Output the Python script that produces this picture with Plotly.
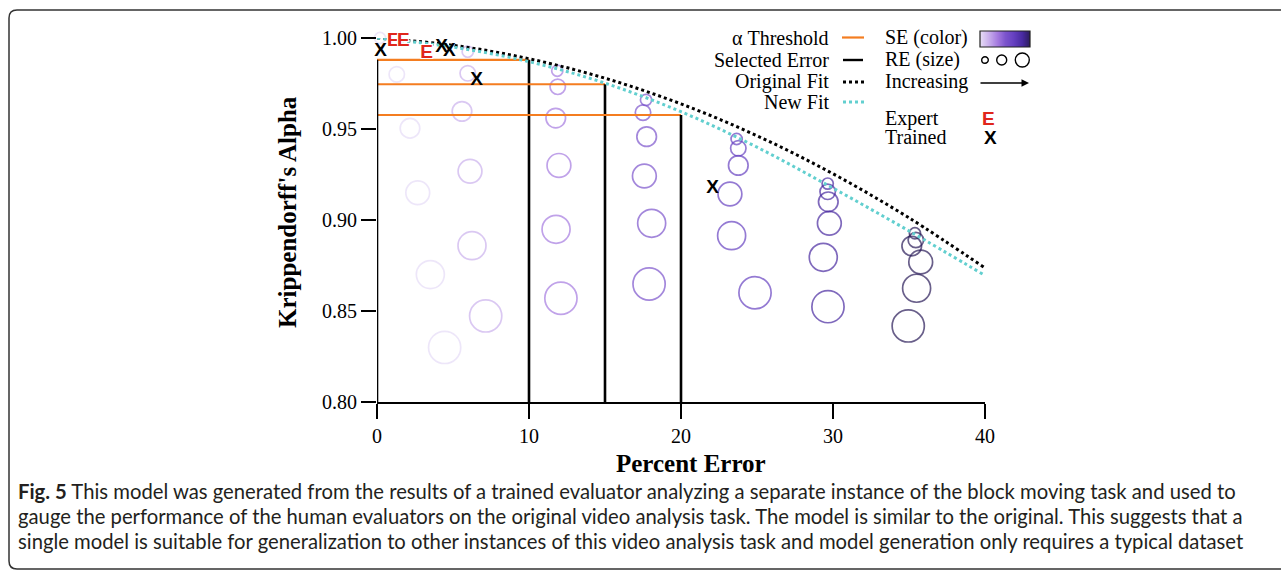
import plotly.graph_objects as go

W, H = 1281, 571

# ---------------- data ----------------
# bubble columns (one column per SE level); within a column RE increases
bubble_x = [
    [0.20, 1.30, 2.17, 2.68, 3.51, 4.45],
    [5.97, 5.97, 5.59, 6.12, 6.25, 7.15],
    [11.86, 11.89, 11.76, 11.97, 11.78, 12.10],
    [17.70, 17.50, 17.74, 17.59, 18.07, 17.90],
    [23.66, 23.77, 23.77, 23.22, 23.33, 24.87],
    [29.65, 29.65, 29.69, 29.76, 29.36, 29.67],
    [35.39, 35.45, 35.18, 35.77, 35.50, 34.95],
]
bubble_y = [
    [1.000, 0.980, 0.9504, 0.915, 0.870, 0.830],
    [0.9925, 0.9806, 0.9597, 0.9268, 0.8859, 0.8473],
    [0.982, 0.9732, 0.956, 0.930, 0.8949, 0.857],
    [0.966, 0.959, 0.9458, 0.9242, 0.8982, 0.8648],
    [0.9445, 0.9394, 0.930, 0.9143, 0.8914, 0.860],
    [0.920, 0.9155, 0.910, 0.8982, 0.8795, 0.8524],
    [0.8927, 0.889, 0.8857, 0.8769, 0.8625, 0.8418],
]
se_level = [0, 1, 2, 3, 4, 5, 6]          # colour (SE) per column
re_level = [1, 2, 3, 4, 5, 6]             # size (RE) within each column

expert_x = [1.07, 1.73, 3.27]
expert_y = [0.998, 0.998, 0.9916]
trained_x = [0.24, 4.25, 4.76, 6.56, 22.08]
trained_y = [0.993, 0.9949, 0.9925, 0.9769, 0.9174]

alpha_threshold = [0.988, 0.9746, 0.9577]
selected_error = [10, 15, 20]

fit_x = [0, 5, 10, 15, 20, 25, 30, 35, 40]
original_fit = [1.000, 0.9960, 0.9886, 0.9779, 0.9638, 0.9463, 0.9254, 0.9012, 0.8736]
new_fit = [1.000, 0.9950, 0.9870, 0.9752, 0.9595, 0.9400, 0.9175, 0.8940, 0.8695]

x_ticks = [0, 10, 20, 30, 40]
y_ticks = [0.80, 0.85, 0.90, 0.95, 1.00]
y_ticktext = ["0.80", "0.85", "0.90", "0.95", "1.00"]

caption_lines = [
    "<b>Fig. 5</b> This model was generated from the results of a trained evaluator analyzing a separate instance of the block moving task and used to",
    "gauge the performance of the human evaluators on the original video analysis task. The model is similar to the original. This suggests that a",
    "single model is suitable for generalization to other instances of this video analysis task and model generation only requires a typical dataset",
]

# ---------------- styling ----------------
SERIF = "Liberation Serif, Times New Roman, serif"
SANS = "Liberation Sans, Arial, sans-serif"
ORANGE = "#f47d20"
CYAN = "#62cfcf"
RED = "#e0261b"
colorscale = [[0, "#e6dbf6"], [1/6, "#cab1ed"], [2/6, "#a57bdf"], [3/6, "#7c54cc"],
              [4/6, "#6641c1"], [5/6, "#482aa0"], [1, "#2a1b58"]]


def px(x):
    return x / W


def py(y):
    return 1 - y / H


fig = go.Figure()

# bubbles
bx, by, bc, bs = [], [], [], []
for ci, col in enumerate(bubble_x):
    for ri, xv in enumerate(col):
        bx.append(xv)
        by.append(bubble_y[ci][ri])
        bc.append(se_level[ci])
        bs.append(7 + 4.2 * re_level[ri])
fig.add_trace(go.Scatter(
    x=bx, y=by, mode="markers", cliponaxis=False, hoverinfo="skip",
    marker=dict(symbol="circle-open", size=bs, color=bc, colorscale=colorscale,
                cmin=min(se_level), cmax=max(se_level), line=dict(width=1.7)),
))

# threshold (orange) and selected-error (black) lines
for thr, err in zip(alpha_threshold, selected_error):
    fig.add_trace(go.Scatter(x=[0, err], y=[thr, thr], mode="lines", cliponaxis=False,
                             line=dict(color=ORANGE, width=2.2), hoverinfo="skip"))
    fig.add_trace(go.Scatter(x=[err, err], y=[thr, y_ticks[0]], mode="lines", cliponaxis=False,
                             line=dict(color="black", width=2.6), hoverinfo="skip"))
# left axis segment
fig.add_trace(go.Scatter(x=[0, 0], y=[alpha_threshold[0], y_ticks[0]], mode="lines", cliponaxis=False,
                         line=dict(color="black", width=2.6), hoverinfo="skip"))

# fits
fig.add_trace(go.Scatter(x=fit_x, y=original_fit, mode="lines", line_shape="spline", cliponaxis=False,
                         line=dict(color="black", width=3, dash="dot"), hoverinfo="skip"))
fig.add_trace(go.Scatter(x=fit_x, y=new_fit, mode="lines", line_shape="spline", cliponaxis=False,
                         line=dict(color=CYAN, width=3, dash="dot"), hoverinfo="skip"))

# evaluators
fig.add_trace(go.Scatter(x=trained_x, y=trained_y, mode="text", text=["X"] * len(trained_x),
                         cliponaxis=False, hoverinfo="skip",
                         textfont=dict(family=SANS, size=19, color="black", weight="bold")))
fig.add_trace(go.Scatter(x=expert_x, y=expert_y, mode="text", text=["E"] * len(expert_x),
                         cliponaxis=False, hoverinfo="skip",
                         textfont=dict(family=SANS, size=19, color=RED, weight="bold",
                                       shadow="1px 1px 0 white, -1px -1px 0 white, 1px -1px 0 white, -1px 1px 0 white")))

# legend colour bar (heatmap on its own axes)
fig.add_trace(go.Heatmap(z=[se_level, se_level], x=se_level, y=[0, 1], colorscale=colorscale,
                         zsmooth="best", showscale=False, hoverinfo="skip",
                         xaxis="x2", yaxis="y2"))

fig.update_layout(
    width=W, height=H, margin=dict(l=0, r=0, t=0, b=0, autoexpand=False),
    paper_bgcolor="white", plot_bgcolor="rgba(0,0,0,0)", showlegend=False,
    xaxis=dict(domain=[px(377), px(985)], range=[0, 40], tickvals=x_ticks,
               showgrid=False, zeroline=False, showline=True, linecolor="black", linewidth=2.4,
               ticks="outside", ticklen=15, tickwidth=2.2, tickcolor="black",
               tickfont=dict(family=SERIF, size=20, color="black")),
    yaxis=dict(domain=[py(402), py(38)], range=[0.80, 1.00], tickvals=y_ticks, ticktext=y_ticktext,
               showgrid=False, zeroline=False, showline=False,
               ticks="outside", ticklen=15, tickwidth=2.2, tickcolor="black",
               tickfont=dict(family=SERIF, size=20, color="black")),
    xaxis2=dict(domain=[px(980), px(1030)], range=[0, 6], visible=False, anchor="y2"),
    yaxis2=dict(domain=[py(47), py(31)], range=[0, 1], visible=False, anchor="x2"),
)

shapes = []
annotations = []


def label(x, y, text, size=20, family=SERIF, color="black", xanchor="center", angle=0):
    annotations.append(dict(x=px(x), y=py(y), xref="paper", yref="paper", showarrow=False,
                            xanchor=xanchor, yanchor="middle", textangle=angle, text=text,
                            font=dict(family=family, size=size, color=color)))


# axis titles
label(691, 463, "<b>Percent Error</b>", size=25)
label(287, 212, "<b>Krippendorff's Alpha</b>", size=25, angle=-90)

# legend – left column
left_items = [("α Threshold", 37.5), ("Selected Error", 60), ("Original Fit", 81.7), ("New Fit", 101.7)]
for txt, yy in left_items:
    label(831, yy, txt, xanchor="right")
shapes.append(dict(type="line", xref="paper", yref="paper", x0=px(842), x1=px(864), y0=py(37.5), y1=py(37.5),
                   line=dict(color=ORANGE, width=2.2)))
shapes.append(dict(type="line", xref="paper", yref="paper", x0=px(843), x1=px(863), y0=py(60), y1=py(60),
                   line=dict(color="black", width=2.4)))
shapes.append(dict(type="line", xref="paper", yref="paper", x0=px(843), x1=px(865), y0=py(82), y1=py(82),
                   line=dict(color="black", width=3, dash="dot")))
shapes.append(dict(type="line", xref="paper", yref="paper", x0=px(843), x1=px(865), y0=py(102), y1=py(102),
                   line=dict(color=CYAN, width=3, dash="dot")))

# legend – right column
right_items = [("SE (color)", 37.5), ("RE (size)", 60), ("Increasing", 81.7), ("Expert", 118), ("Trained", 137.5)]
for txt, yy in right_items:
    label(883, yy, txt, xanchor="left")
shapes.append(dict(type="rect", xref="paper", yref="paper", x0=px(980), x1=px(1030), y0=py(47), y1=py(31),
                   line=dict(color="#222", width=1.2)))
for cx, r in [(985, 3.3), (1001.7, 5), (1022.3, 7)]:
    shapes.append(dict(type="circle", xref="paper", yref="paper", x0=px(cx - r), x1=px(cx + r),
                       y0=py(60 + r), y1=py(60 - r), line=dict(color="black", width=1.4)))
annotations.append(dict(x=px(1029), y=py(83), xref="paper", yref="paper", showarrow=True,
                        ax=-50, ay=0, arrowhead=2, arrowsize=1, arrowwidth=1.5, arrowcolor="black", text=""))
label(988, 118, "<b>E</b>", size=19, family=SANS, color=RED)
label(990, 137.5, "<b>X</b>", size=19, family=SANS)

# caption
for i, line in enumerate(caption_lines):
    label(16, 491 + 25 * i, line, size=20.25, family="Lato, Open Sans, sans-serif", color="#231f20", xanchor="left")

# frame with rounded left corners
x0, y0, y1, rr = 9, 10, 569, 8
path = (f"M {px(W + 10)},{py(y0)} L {px(x0 + rr)},{py(y0)} Q {px(x0)},{py(y0)} {px(x0)},{py(y0 + rr)} "
        f"L {px(x0)},{py(y1 - rr)} Q {px(x0)},{py(y1)} {px(x0 + rr)},{py(y1)} L {px(W + 10)},{py(y1)}")
shapes.append(dict(type="path", xref="paper", yref="paper", path=path, line=dict(color="#333", width=1.5)))

fig.update_layout(shapes=shapes, annotations=annotations)
fig.write_html("out.html",
               post_script="document.body.style.margin='0px';document.documentElement.style.overflow='hidden';")
